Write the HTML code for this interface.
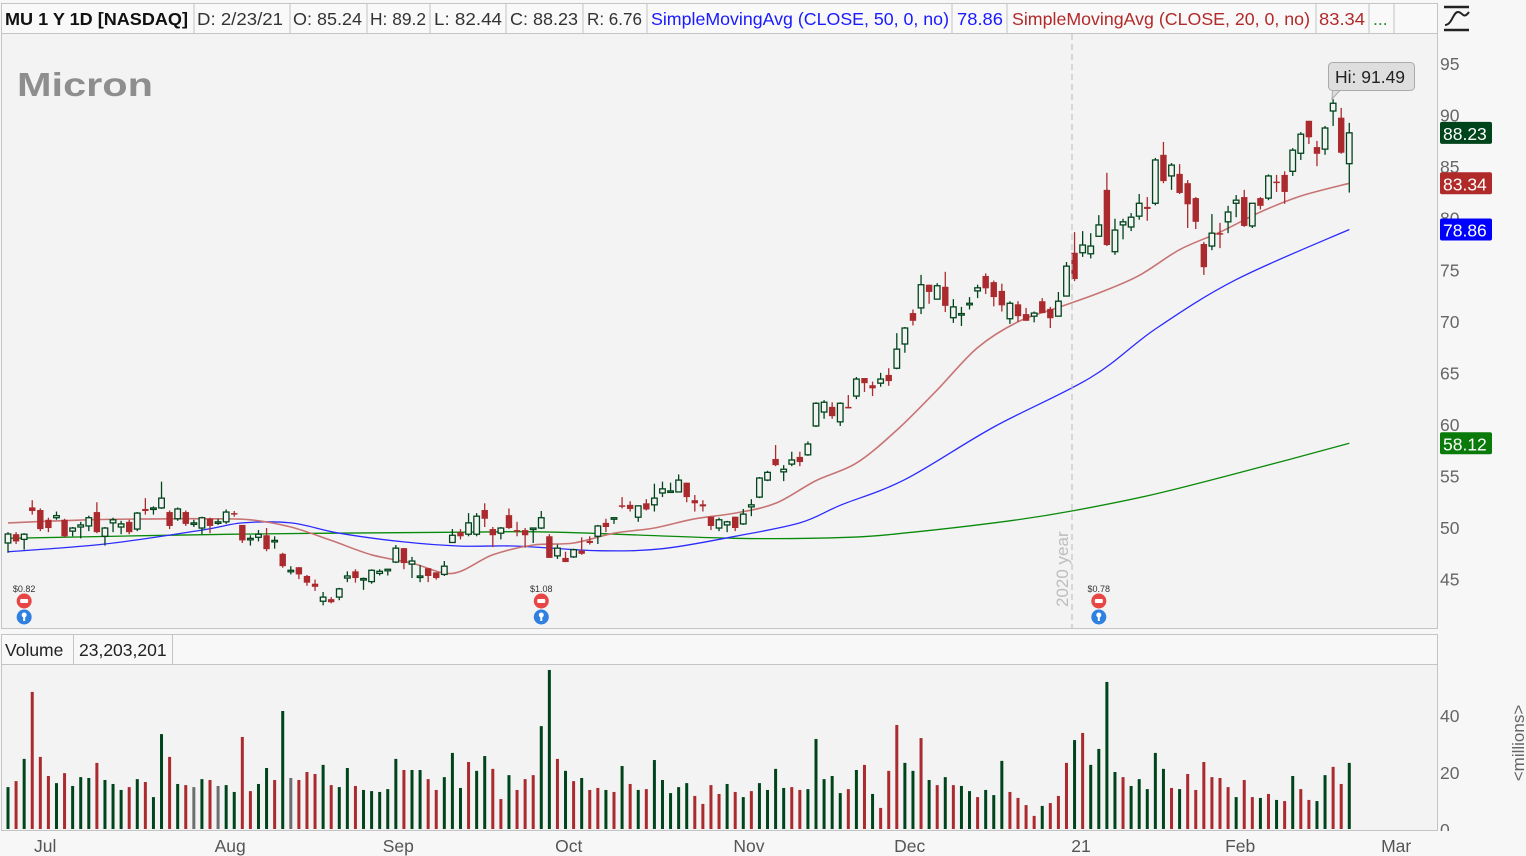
<!DOCTYPE html>
<html><head><meta charset="utf-8"><title>MU 1 Y 1D</title>
<style>
html,body{margin:0;padding:0;background:#f7f7f7;}
body{width:1526px;height:856px;overflow:hidden;font-family:"Liberation Sans",sans-serif;}
svg{display:block;}
text{font-family:"Liberation Sans",sans-serif;}
</style></head>
<body>
<svg id="chart" width="1526" height="856" viewBox="0 0 1526 856" xmlns="http://www.w3.org/2000/svg">
  <rect x="0" y="0" width="1526" height="856" fill="#f7f7f7"/>
  <rect x="1.5" y="33.5" width="1436" height="595" fill="#f3f3f3" stroke="#c4c4c4"/>
  <rect x="1.5" y="634.5" width="1436" height="196" fill="#f3f3f3" stroke="#c4c4c4"/>
  <rect x="1.5" y="634.5" width="1436" height="30" fill="#f8f8f8" stroke="#c4c4c4"/>
  <g id="header" font-size="17.5">
    <rect x="1.5" y="3.5" width="1436" height="30" fill="#f9f9f9" stroke="#c4c4c4"/>
    <text x="5" y="25" font-weight="bold" fill="#111" textLength="183" lengthAdjust="spacingAndGlyphs">MU 1 Y 1D [NASDAQ]</text>
    <text x="197" y="25" fill="#333" textLength="86" lengthAdjust="spacingAndGlyphs">D: 2/23/21</text>
    <text x="293" y="25" fill="#333" textLength="69" lengthAdjust="spacingAndGlyphs">O: 85.24</text>
    <text x="370" y="25" fill="#333" textLength="56" lengthAdjust="spacingAndGlyphs">H: 89.2</text>
    <text x="434" y="25" fill="#333" textLength="68" lengthAdjust="spacingAndGlyphs">L: 82.44</text>
    <text x="510" y="25" fill="#333" textLength="68" lengthAdjust="spacingAndGlyphs">C: 88.23</text>
    <text x="587" y="25" fill="#333" textLength="55" lengthAdjust="spacingAndGlyphs">R: 6.76</text>
    <text x="651" y="25" fill="#1a1aff" textLength="298" lengthAdjust="spacingAndGlyphs">SimpleMovingAvg (CLOSE, 50, 0, no)</text>
    <text x="957" y="25" fill="#1a1aff" textLength="46" lengthAdjust="spacingAndGlyphs">78.86</text>
    <text x="1012" y="25" fill="#b22a2a" textLength="298" lengthAdjust="spacingAndGlyphs">SimpleMovingAvg (CLOSE, 20, 0, no)</text>
    <text x="1319" y="25" fill="#b22a2a" textLength="46" lengthAdjust="spacingAndGlyphs">83.34</text>
    <text x="1373" y="25" fill="#2a8a2a">...</text>
    <g stroke="#c4c4c4">
      <line x1="194" y1="4" x2="194" y2="33"/><line x1="290" y1="4" x2="290" y2="33"/>
      <line x1="367" y1="4" x2="367" y2="33"/><line x1="430" y1="4" x2="430" y2="33"/>
      <line x1="506" y1="4" x2="506" y2="33"/><line x1="583" y1="4" x2="583" y2="33"/>
      <line x1="647" y1="4" x2="647" y2="33"/><line x1="952" y1="4" x2="952" y2="33"/>
      <line x1="1007" y1="4" x2="1007" y2="33"/><line x1="1316" y1="4" x2="1316" y2="33"/>
      <line x1="1369" y1="4" x2="1369" y2="33"/><line x1="1394" y1="4" x2="1394" y2="33"/>
    </g>
  </g>
  <g stroke="#222" stroke-width="2.5" fill="none">
    <line x1="1444" y1="7" x2="1469" y2="7"/>
    <line x1="1444" y1="30" x2="1469" y2="30"/>
    <path d="M1445 25 C1452 25 1453 12 1458 12 C1463 12 1463 20 1469 12" stroke-width="2"/>
  </g>
  <text x="17" y="96" font-size="33" font-weight="bold" fill="#8e8e8e" textLength="136" lengthAdjust="spacingAndGlyphs">Micron</text>
  <g id="ma"></g>
  <g id="candles"></g>
  <g id="vols"></g>
  <g id="axes"></g>
  <g id="markers"></g>
</svg>
<script>
const NS='http://www.w3.org/2000/svg';
const open =[48.45,49.3,48.8,51.9,51.65,50.7,50.9,50.7,49.6,50,50.1,51.45,49.1,50.4,50,50.5,49.8,51.75,51.75,51.85,51.45,50.8,51.45,50.4,49.9,50.8,50.5,50.5,51.35,50.2,48.8,49,49.2,48.6,47.4,45.8,46.1,45.25,44.5,42.8,43.0,43.2,45.05,45.7,44.9,44.7,45.5,45.75,46.6,47.95,46.4,45.2,46.0,45.6,45.4,48.5,49.5,49.3,49.3,51.65,49.8,49.4,51.15,49.7,49.7,49.8,49.9,49.1,47.2,47.0,47.1,47.7,48.65,49.1,50.4,50.8,52.1,52.15,50.95,52.3,52.15,53.3,53.45,53.4,54.3,52.6,52.2,51.0,49.9,50.2,51.0,50.3,51.95,52.9,54.55,56.6,55.35,56.1,56.8,57.0,59.8,61.15,61.65,60.2,61.65,62.7,64.45,63.75,63.95,64.75,65.4,67.75,70.75,71.25,73.5,72.1,73.3,70.3,70.6,71.55,72.9,74.35,73.75,72.9,70.2,71.6,70.65,70.45,71.9,71.15,70.45,72.4,76.6,76.6,76.5,78.2,82.7,76.7,79.3,79.1,80.15,81.05,81.4,86.1,84.05,84.25,83.35,81.9,77.45,77.25,78.5,79.6,81.4,82.0,79.2,81.9,81.9,83.5,84.15,84.5,86.25,89.4,86.85,86.65,90.35,89.7,85.24];
const high =[49.5,49.5,49.4,52.6,51.8,50.9,51.5,50.8,50,50.5,51.1,52.4,50,50.9,50.6,50.7,51.45,52.8,52,54.4,51.6,51.9,51.6,50.7,51,50.9,50.8,51.7,51.55,50.2,49.2,49.7,49.9,49.1,47.5,46.2,46.1,45.35,44.9,43.7,43.2,44.1,45.7,45.9,45.1,45.9,45.9,45.95,48.25,47.95,47.1,46.3,46.0,45.6,46.7,49.8,49.8,51.35,51.35,52.3,50,50,51.8,50.5,49.9,49.9,51.55,49.3,48.3,47.6,47.9,49.0,49.1,50.2,50.8,50.95,52.9,52.5,52.1,52.7,54.2,54.4,54.3,55.1,54.3,53.1,52.6,51.0,50.9,50.6,51.0,51.75,52.7,54.85,55.45,57.95,56.0,57.3,57.3,58.3,62.1,62.3,62.1,62.1,62.8,64.55,64.45,64.1,64.95,65.4,68.8,69.4,71.1,74.45,73.5,73.65,74.75,72.1,71.35,72.3,73.5,74.6,73.9,73.6,71.9,71.9,71.25,70.9,72.2,71.35,72.8,75.7,78.6,78.7,78.5,80.25,84.35,79.9,79.9,80.45,82.3,82.0,85.8,87.35,85.3,85.2,83.65,82.0,77.65,80.35,79.5,81.15,82.2,82.7,81.4,82.0,84.2,84.15,84.5,86.75,88.3,89.4,87.45,88.9,91.49,90.65,89.2];
const low  =[47.5,48.35,47.8,51.2,49.6,49.5,50.7,49,49.1,48.9,49.6,49.4,48.2,49.5,49.3,49.3,49.6,51.2,51.2,51.75,49.8,50.6,50.1,50.0,49.3,49.4,50.2,50.3,51,48.45,48.2,48.6,47.65,47.9,46.05,45.4,44.95,44.3,43.8,42.4,42.6,42.9,44.65,44.6,43.9,44.5,45.3,45.3,46.5,45.9,45.05,44.65,44.65,44.9,45.25,48.45,48.8,49.1,49.1,50,48.05,48.8,49.8,49.1,48,48.45,49.8,47.0,46.9,46.6,47.0,47.3,48.3,48.35,49.5,50.3,51.8,51.5,50.5,51.6,51.5,52.9,53.4,53.4,52.4,51.5,51.5,49.7,49.6,49.5,49.6,50.2,51.05,52.8,54.45,55.9,54.45,55.9,55.9,56.9,59.7,60.5,60.5,59.8,61.5,62.4,63.1,62.7,63.6,63.7,65.3,66.9,69.55,70.65,71.65,72.1,70.85,69.8,69.5,71.1,72.2,72.6,71.4,70.9,69.7,69.9,70.0,69.85,70.75,69.3,70.45,72.4,73.85,76.2,76.05,78.2,77.25,76.4,77.9,78.7,79.8,79.7,81.2,83.35,82.7,82.3,79.0,78.9,74.45,76.85,77.05,78.5,80.05,79.1,79.0,80.8,81.7,82.5,81.35,84.05,85.6,87.15,85.0,86.1,88.9,86.2,82.44];
const close=[49.32,48.6,49.3,51.55,49.8,49.9,51.1,49.1,49.9,50.2,50.9,49.5,49.9,50.7,50.3,49.5,51.35,51.55,51.85,52.8,50.1,51.75,50.3,50.4,50.9,50.1,50.5,51.45,51.25,48.7,48.9,49.3,47.85,48.7,46.2,45.8,45.4,44.6,44.2,43.2,42.7,44.0,45.25,45.05,45.0,45.8,45.7,45.9,47.95,46.5,46.7,45.25,45.25,45.05,46.2,49.2,49.1,50.4,51.05,50.8,49.2,49.9,49.9,49.6,49.2,49.9,50.9,47.0,47.95,46.6,47.8,47.4,48.45,50.1,50.0,50.9,52.0,51.75,52.05,51.7,52.8,53.7,53.5,54.55,52.9,52.3,52.0,50.1,50.7,50.5,49.9,51.25,52.15,54.75,55.3,56.0,55.6,56.5,56.3,58.05,62.0,62.1,60.75,62.0,61.55,64.35,63.95,63.45,64.35,64.15,67.25,69.3,70.0,73.5,72.8,73.4,71.45,71.35,70.7,71.7,73.2,73.15,72.3,71.5,71.7,70.45,70.0,70.75,70.75,70.25,71.9,75.3,74.05,77.35,77.25,79.3,77.35,78.8,79.6,80.05,81.4,80.85,85.6,83.55,85.1,82.4,81.3,79.6,75.2,78.5,78.4,80.55,81.7,79.2,81.4,81.15,84.05,83.4,82.5,86.55,88.1,87.8,86.2,88.7,91.1,86.3,88.23];
const volume=[14.7,16.8,24.6,48.1,25.3,18.6,16.1,19.6,15.1,18.2,17.9,23.2,17.2,15.8,13.7,14.7,17.5,16.5,11.2,33.3,25.3,15.8,15.4,14.7,17.5,17.2,15.1,15.4,13.0,32.3,13.3,15.8,21.4,17.2,41.4,17.9,17.2,20.0,19.3,22.5,15.4,14.7,21.4,15.1,13.7,13.3,13.0,14.0,24.6,20.7,20.7,20.7,17.5,13.7,18.2,26.7,14.4,23.5,20.4,25.6,21.1,10.5,18.9,13.7,17.5,18.9,36.1,55.8,24.6,20.4,16.8,17.9,13.7,14.4,13.7,13.0,22.1,15.8,13.7,14.0,24.2,17.2,12.6,14.7,16.1,11.6,8.8,15.4,12.3,15.8,13.0,11.2,13.3,16.1,13.7,21.1,14.4,14.7,13.7,14.0,31.6,17.5,18.6,12.6,14.0,20.7,22.5,12.3,7.4,20.4,36.5,23.2,20.4,31.9,17.2,15.4,18.2,15.4,15.1,13.3,11.2,13.7,11.9,23.9,13.0,10.9,8.4,4.6,8.1,9.1,11.6,23.2,31.2,33.7,22.5,28.1,51.6,20.0,18.2,15.1,17.5,14.0,26.7,21.1,14.4,14.0,19.3,13.7,23.5,18.2,17.9,14.7,11.2,17.2,11.2,10.9,12.3,10.2,9.8,18.6,14.0,10.2,9.8,18.9,21.8,15.8,23.2];
const volDir="grgrrrgrgggrgggrgrggrgrngrnggrrggrgnrrrgrggrgggggrggrrgggrggrrgrrrggrgrgrrgrgrgrgggggrrrrgrgrggggrrgggggrgrgrrrggrgrgrggrgggrrrrgrrrgrggggrgggggrgrrrrrrgrrgrgrgrrggrrggrg".split('');
const sma20Idx=[0,10,20,25,30,35,40,45,50,55,60,65,70,75,80,85,90,95,100,105,110,115,120,125,130,135,140,145,150,155,160,166];
const sma20Val=[50.4,50.7,50.8,50.8,50.7,50.0,48.7,47.3,46.5,45.5,47.3,48.25,48.45,49.4,49.9,50.8,51.35,52.3,54.5,56.2,59.4,63.3,67.4,69.9,71.3,72.7,74.4,76.9,78.6,80.55,82.1,83.34];
const sma50Idx=[0,12,24,29,35,41,49,56,63,73,81,90,98,103,111,122,134,142,152,166];
const sma50Val=[47.6,48.35,49.7,50.4,50.4,49.4,48.55,48.15,48.15,47.7,47.9,49.1,50.4,52.1,54.6,59.7,64.5,69.2,74.0,78.86];
const sma200Idx=[0,28,56,68,90,104,112,124,132,142,154,166];
const sma200Val=[48.9,49.3,49.5,49.5,48.9,49.0,49.5,50.6,51.6,53.2,55.6,58.12];
const priceTicks=[45,50,55,60,65,70,75,80,85,90,95];
const volTicks=[0,20,40];
const monthLabels=['Jul','Aug','Sep','Oct','Nov','Dec','21','Feb','Mar'];
const monthIdx=[4.6,27.5,48.3,69.4,91.7,111.6,132.8,152.5,171.8];
const divIdx=[2,66,135];
const divLabels=['$0.82','$1.08','$0.78'];

const X=i=>8+i*8.08;
const Y=v=>527-(v-50)*10.31;
const VY=v=>829-v*2.85;
const GREEN='#00441b', RED='#ab2a2e';
function mk(tag,attrs,parent){const e=document.createElementNS(NS,tag);for(const k in attrs)e.setAttribute(k,attrs[k]);parent.appendChild(e);return e;}

// MA lines (smooth Catmull-Rom through read values)
const maG=document.getElementById('ma');
function maLine(idx,val,color,name,w){
  const P=idx.map((i,k)=>[X(i),Y(val[k])]);
  let d='M'+P[0][0].toFixed(1)+' '+P[0][1].toFixed(1);
  for(let k=0;k<P.length-1;k++){
    const p0=P[Math.max(k-1,0)],p1=P[k],p2=P[k+1],p3=P[Math.min(k+2,P.length-1)];
    const c1=[p1[0]+(p2[0]-p0[0])/6,p1[1]+(p2[1]-p0[1])/6];
    const c2=[p2[0]-(p3[0]-p1[0])/6,p2[1]-(p3[1]-p1[1])/6];
    d+=' C'+c1.map(v=>v.toFixed(1)).join(' ')+' '+c2.map(v=>v.toFixed(1)).join(' ')+' '+p2.map(v=>v.toFixed(1)).join(' ');
  }
  const p=mk('path',{d:d,stroke:color,'stroke-width':w,fill:'none','stroke-linejoin':'round'},maG);
  
  
}
maLine(sma200Idx,sma200Val,'#0a8a0a','sma200-line',1.3);
maLine(sma50Idx,sma50Val,'#2b2bff','sma50-line',1.3);
maLine(sma20Idx,sma20Val,'#c87474','sma20-line',1.6);

// candles
const cg=document.getElementById('candles');
for(let i=0;i<close.length;i++){
  const x=X(i), up=close[i]>=open[i];
  const col=up?GREEN:RED;
  const g=mk('g',{},cg);
  
  
  mk('line',{x1:x,x2:x,y1:Y(high[i]),y2:Y(low[i]),stroke:col,'stroke-width':1.3},g);
  const top=Y(Math.max(open[i],close[i])), bot=Y(Math.min(open[i],close[i]));
  const h=Math.max(bot-top,1.5);
  if(up) mk('rect',{x:x-2.8,y:top,width:5.6,height:h,fill:'#f3f3f3',stroke:col,'stroke-width':1.3},g);
  else mk('rect',{x:x-3.2,y:top,width:6.4,height:h,fill:col},g);
}

// volume bars
const vg=document.getElementById('vols');
for(let i=0;i<volume.length;i++){
  const c=volDir[i]==='g'?GREEN:volDir[i]==='r'?RED:'#6e6e6e';
  const r=mk('rect',{x:X(i)-1.5,y:VY(volume[i]),width:3,height:829-VY(volume[i]),fill:c},vg);
  
  
}

// axes
const ax=document.getElementById('axes');
priceTicks.forEach(v=>{
  const t=mk('text',{x:1440,y:Y(v)+7,'font-size':17.5,fill:'#666'},ax);
  t.textContent=v;
  
  
});
volTicks.forEach(v=>{
  const t=mk('text',{x:1440,y:VY(v)+7,'font-size':17.5,fill:'#666'},ax);
  t.textContent=v;
  
  
});
monthLabels.forEach((m,k)=>{
  const t=mk('text',{x:X(monthIdx[k]),y:852,'font-size':17.5,fill:'#555','text-anchor':'middle'},ax);
  t.textContent=m;
  
  
});
mk('rect',{x:1438,y:831,width:60,height:8,fill:'#f7f7f7'},ax);
const mil=mk('text',{x:0,y:0,'font-size':17,fill:'#666','text-anchor':'middle',transform:'translate(1524,743) rotate(-90)'},ax);
mil.textContent='<millions>';



function badge(v,color,name){
  const g=mk('g',{},ax);
  
  
  mk('rect',{x:1440,y:Y(v)-11,width:52,height:22,rx:2,fill:color},g);
  const t=mk('text',{x:1443,y:Y(v)+7,'font-size':17.5,fill:'#fff'},g);
  t.textContent=v.toFixed(2);
}
badge(close[close.length-1],'#00441b','last-price-badge');
badge(sma20Val[sma20Val.length-1],'#b02a2a','sma20-badge');
badge(sma50Val[sma50Val.length-1],'#0000ff','sma50-badge');
badge(sma200Val[sma200Val.length-1],'#0a7a0a','sma200-badge');

const mg=document.getElementById('markers');
const yl=mk('line',{x1:1072,x2:1072,y1:34,y2:628,stroke:'#bbb','stroke-dasharray':'6,4'},mg);


const yt=mk('text',{x:0,y:0,'font-size':17,fill:'#bdbdbd',transform:'translate(1068,607) rotate(-90)'},mg);
yt.textContent='2020 year';



divIdx.forEach((i,k)=>{
  const x=X(i);
  const g=mk('g',{},mg);
  
  
  const t=mk('text',{x:x,y:592,'font-size':9,fill:'#333','text-anchor':'middle','font-family':'Liberation Mono'},g);
  t.textContent=divLabels[k];
  mk('circle',{cx:x,cy:601,r:7.5,fill:'#e84545'},g);
  mk('rect',{x:x-4,y:599,width:8,height:4,rx:1,fill:'#fff'},g);
  mk('circle',{cx:x,cy:617,r:7.5,fill:'#2f80e0'},g);
  mk('circle',{cx:x,cy:615,r:2.5,fill:'#fff'},g);
  mk('rect',{x:x-1,y:617,width:2,height:4,fill:'#fff'},g);
});

const hi=mk('g',{},mg);


mk('path',{d:'M1332.5 90.5 L1332 99 L1340 90.5',fill:'#ddd',stroke:'#aaa'},hi);
mk('rect',{x:1328.5,y:62.5,width:86,height:28,rx:4,fill:'#dedede',stroke:'#aaa'},hi);
const ht=mk('text',{x:1335,y:83,'font-size':17.5,fill:'#222'},hi);
ht.textContent='Hi: '+Math.max(...high).toFixed(2);

const vh=mk('g',{},mg);


const v1=mk('text',{x:5,y:656,'font-size':17.5,fill:'#222'},vh);v1.textContent='Volume';
mk('line',{x1:73.5,x2:73.5,y1:635,y2:664,stroke:'#c4c4c4'},vh);
const v2=mk('text',{x:79,y:656,'font-size':17.5,fill:'#222'},vh);v2.textContent='23,203,201';
mk('line',{x1:172.5,x2:172.5,y1:635,y2:664,stroke:'#c4c4c4'},vh);
</script>
</body></html>
